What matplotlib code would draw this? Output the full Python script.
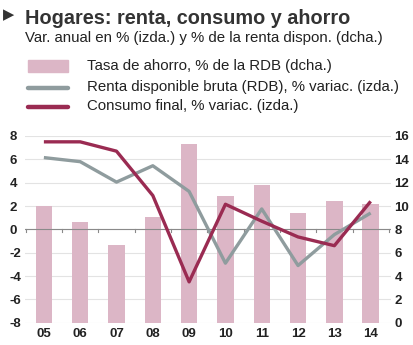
import matplotlib
matplotlib.use("Agg")
import matplotlib.pyplot as plt
from matplotlib.patches import Rectangle
from matplotlib.lines import Line2D

years = ["05", "06", "07", "08", "09", "10", "11", "12", "13", "14"]
ahorro = [10.0, 8.6, 6.7, 9.1, 15.3, 10.9, 11.8, 9.4, 10.4, 10.2]
renta = [6.15, 5.8, 4.05, 5.45, 3.25, -2.9, 1.75, -3.1, -0.45, 1.4]
consumo = [7.5, 7.5, 6.7, 2.9, -4.5, 2.15, 0.7, -0.65, -1.4, 2.4]
left_ticks = [-8, -6, -4, -2, 0, 2, 4, 6, 8]
right_ticks = [0, 2, 4, 6, 8, 10, 12, 14, 16]

plt.rcParams['font.family'] = ['Liberation Sans', 'DejaVu Sans']
plt.rcParams['axes.unicode_minus'] = False

W, H = 414, 345
fig = plt.figure(figsize=(W / 100, H / 100), dpi=100)

C_BAR = "#dcb6c6"
C_GREY = "#8f9c9e"
C_RED = "#9a2b52"
C_TXT = "#222222"

x0, x1, ytop, ybot = 25, 391, 136, 322.7
rect = [x0 / W, 1 - ybot / H, (x1 - x0) / W, (ybot - ytop) / H]

ax2 = fig.add_axes(rect)  # right axis, bars
ax = ax2.twinx()  # lines, left scale
ax.yaxis.tick_left()
ax2.yaxis.tick_right()
ax.set_zorder(ax2.get_zorder() + 1)
ax.patch.set_visible(False)

xs = list(range(len(years)))
ax2.bar(xs, ahorro, width=0.45, color=C_BAR, zorder=2)
ax2.set_ylim(0, 16)
ax2.set_yticks(right_ticks)
for v in right_ticks:
    ax2.axhline(v, color="#e3e3e3", lw=0.8, zorder=1)

ax.plot(xs, renta, color=C_GREY, lw=2.4, solid_capstyle='butt', zorder=3)
ax.plot(xs, consumo, color=C_RED, lw=2.4, solid_capstyle='butt', zorder=4)
ax.set_ylim(-8, 8)
ax.set_yticks(left_ticks)
ax.axhline(0, color="#8a8a8a", lw=0.8, zorder=2)
for b in [i - 0.5 for i in range(1, len(years))] + [-0.5, len(years) - 0.5]:
    ax.plot([b, b], [0, -0.25], color="#8a8a8a", lw=0.8, zorder=2)

ax.set_xlim(-0.52, 9.56)
ax2.set_xticks(xs)
ax2.set_xticklabels(years)

for a in (ax, ax2):
    for s in a.spines.values():
        s.set_visible(False)

ax2.tick_params(axis='x', length=0, pad=4, labelsize=9.5, labelcolor=C_TXT)
ax2.tick_params(axis='y', length=0, pad=2.5, labelsize=9.5, labelcolor=C_TXT)
ax.tick_params(axis='y', length=0, pad=11, labelsize=9.5, labelcolor=C_TXT)
ax.tick_params(axis='x', length=0)
for lab in ax.get_yticklabels():
    lab.set_horizontalalignment('left')
for lab in ax2.get_yticklabels():
    lab.set_horizontalalignment('left')
for lab in ax.get_yticklabels() + ax2.get_yticklabels() + ax2.get_xticklabels():
    lab.set_fontweight('bold')

# title
fig.text(3 / W, 1 - 14.5 / H, "\u25B6", fontsize=10.5, color="#333333", va='center', ha='left',
         family=['DejaVu Sans'])
fig.text(25 / W, 1 - 18 / H, "Hogares: renta, consumo y ahorro", fontsize=14.3,
         fontweight='bold', color="#333333", va='center', ha='left')
fig.text(25 / W, 1 - 38 / H, "Var. anual en % (izda.) y % de la renta dispon. (dcha.)",
         fontsize=10.8, color=C_TXT, va='center', ha='left')

# legend
fig.patches.append(Rectangle((28 / W, 1 - 72 / H), 40 / W, 12 / H, transform=fig.transFigure,
                             color=C_BAR, figure=fig))
fig.lines.append(Line2D([28 / W, 68 / W], [1 - 88 / H, 1 - 88 / H], transform=fig.transFigure,
                        color=C_GREY, lw=3.2, solid_capstyle='round', figure=fig))
fig.lines.append(Line2D([28 / W, 68 / W], [1 - 107 / H, 1 - 107 / H], transform=fig.transFigure,
                        color=C_RED, lw=3.2, solid_capstyle='round', figure=fig))
leg_txt = ["Tasa de ahorro, % de la RDB (dcha.)",
           "Renta disponible bruta (RDB), % variac. (izda.)",
           "Consumo final, % variac. (izda.)"]
for t, y in zip(leg_txt, [66, 87, 106]):
    fig.text(87 / W, 1 - y / H, t, fontsize=10.8, color=C_TXT, va='center', ha='left')

fig.savefig("out.png", dpi=100, facecolor="white")
